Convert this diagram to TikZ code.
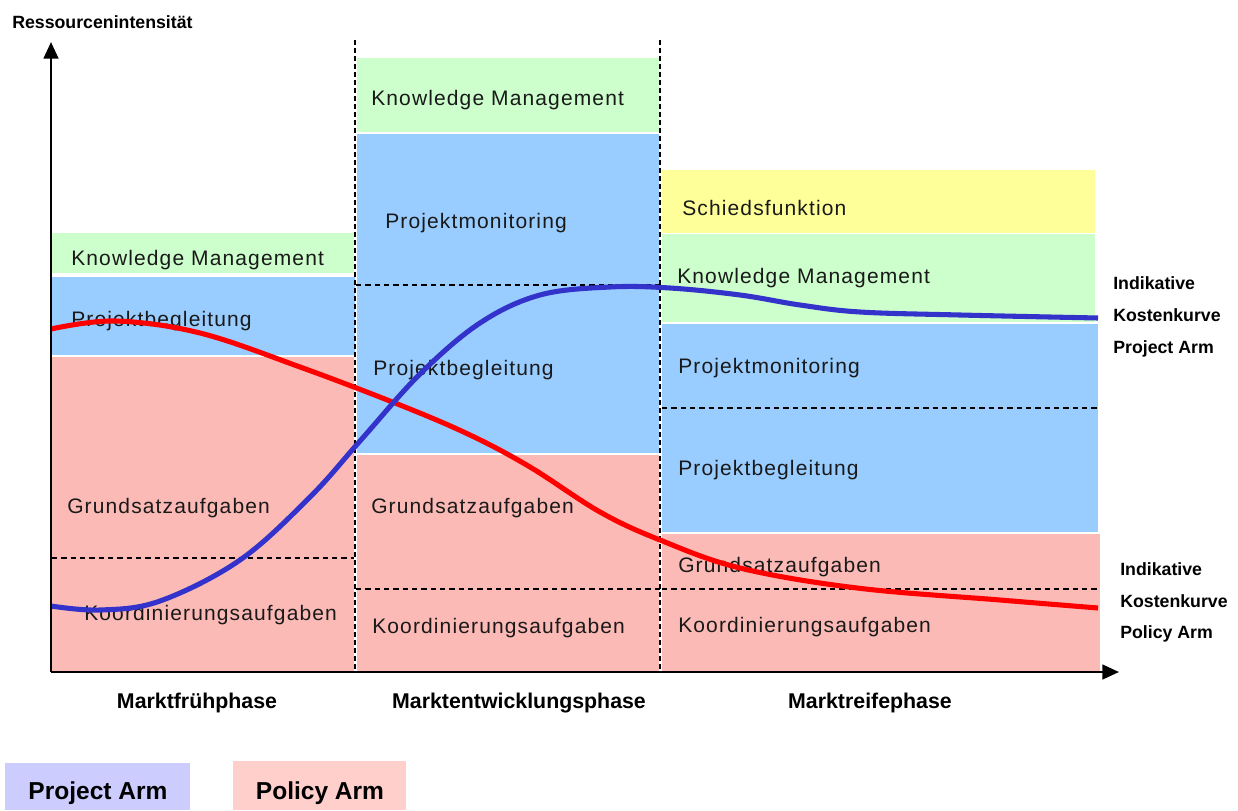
\documentclass[tikz,border=0pt]{standalone}
\usepackage{fontspec}
\setmainfont{Liberation Sans}
\newfontfamily\regfont[LetterSpace=5.4]{Liberation Sans}
\usetikzlibrary{arrows.meta}
\definecolor{kmgreen}{HTML}{CCFFCC}
\definecolor{projblue}{HTML}{99CCFF}
\definecolor{polpink}{HTML}{FBBAB6}
\definecolor{schyellow}{HTML}{FFFF99}
\definecolor{curveblue}{HTML}{3333CC}
\definecolor{curvered}{HTML}{FF0000}
\definecolor{legblue}{HTML}{CCCCFF}
\definecolor{legpink}{HTML}{FFCFCC}
\begin{document}
\begin{tikzpicture}[x=0.75pt,y=-0.75pt,
  lbl/.style={anchor=base west, inner sep=0pt, font=\regfont\fontsize{15.75}{18}\selectfont, text=black!90},
  phase/.style={anchor=base, inner sep=0pt, font=\bfseries\fontsize{16}{19}\selectfont},
  curvelbl/.style={anchor=base west, inner sep=0pt, font=\bfseries\fontsize{13.3}{16}\selectfont},
  legtext/.style={anchor=base, inner sep=0pt, font=\bfseries\fontsize{18.4}{22}\selectfont},
  coldash/.style={line width=0.9pt, dash pattern=on 4pt off 2pt},
  rowdash/.style={line width=0.8pt, dash pattern=on 4pt off 3pt},
  axisline/.style={line width=1.9pt, -{Triangle[length=12.5pt,width=11pt]}},
  costcurve/.style={line width=3.8pt, line join=round}
]
\useasboundingbox (0,0) rectangle (1238,810);

% column 1
\fill[kmgreen] (52,233) rectangle (354,273);
\fill[projblue] (52,277) rectangle (355,355);
\fill[polpink] (52,357) rectangle (354,671);
% column 2
\fill[kmgreen] (357,58) rectangle (659,132);
\fill[projblue] (357,134) rectangle (659,453);
\fill[polpink] (357,455) rectangle (659,671);
% column 3
\fill[schyellow] (662,170) rectangle (1095,233);
\fill[kmgreen] (662,234) rectangle (1095,322);
\fill[projblue] (662,323.5) rectangle (1097.5,531.5);
\fill[polpink] (662,534) rectangle (1100,671);

% dashed separators
\coordinate (c1top) at (355,40);
\coordinate (c1bot) at (355,672);
\coordinate (c2top) at (660,40);
\coordinate (c2bot) at (660,672);
\draw[coldash] (c1top) -- (c1bot);
\draw[coldash] (c2top) -- (c2bot);
\coordinate (d1a) at (52,558);   \coordinate (d1b) at (354,558);
\coordinate (d2a) at (356,285);  \coordinate (d2b) at (660,285);
\coordinate (d3a) at (356,589);  \coordinate (d3b) at (660,589);
\coordinate (d4a) at (662,408);  \coordinate (d4b) at (1097,408);
\coordinate (d5a) at (662,589);  \coordinate (d5b) at (1100,589);
\draw[rowdash] (d1a) -- (d1b);
\draw[rowdash] (d2a) -- (d2b);
\draw[rowdash] (d3a) -- (d3b);
\draw[rowdash] (d4a) -- (d4b);
\draw[rowdash] (d5a) -- (d5b);

% labels column 1
\node[lbl] (km1) at (71,265) {Knowledge Management};
\node[lbl] (pb1) at (71,326) {Projektbegleitung};
\node[lbl] (gs1) at (67,513) {Grundsatzaufgaben};
\node[lbl] (ko1) at (84,620) {Koordinierungsaufgaben};
% labels column 2
\node[lbl] (km2) at (371,105) {Knowledge Management};
\node[lbl] (pm2) at (385,228) {Projektmonitoring};
\node[lbl] (pb2) at (373,375) {Projektbegleitung};
\node[lbl] (gs2) at (371,513) {Grundsatzaufgaben};
\node[lbl] (ko2) at (372,633) {Koordinierungsaufgaben};
% labels column 3
\node[lbl] (sf3) at (682,215) {Schiedsfunktion};
\node[lbl] (km3) at (677,283) {Knowledge Management};
\node[lbl] (pm3) at (678,373) {Projektmonitoring};
\node[lbl] (pb3) at (678,475) {Projektbegleitung};
\node[lbl] (gs3) at (678,572) {Grundsatzaufgaben};
\node[lbl] (ko3) at (678,632) {Koordinierungsaufgaben};

% curves
\draw[costcurve, curvered] plot[smooth, tension=0.6] coordinates {
  (51,329) (115,321) (200,333) (300,367) (400,405) (470,435) (530,467)
  (600,512) (660,540) (740,568) (857,588) (1000,600) (1098,608)};
\draw[costcurve, curveblue] plot[smooth, tension=0.6] coordinates {
  (51,606) (100,610) (160,601) (240,560) (310,497) (360,441) (420,374)
  (480,323) (540,295) (610,287) (670,288) (740,295) (800,305) (860,312)
  (960,315) (1098,318)};

% axes
\coordinate (origin) at (51,672);
\coordinate (ytip) at (51,42);
\coordinate (xtip) at (1119,672);
\draw[axisline] (origin) -- (ytip);
\draw[axisline] (origin) -- (xtip);

\node[anchor=base west, inner sep=0pt, font=\bfseries\fontsize{13.3}{16}\selectfont] (ytitle) at (12,28) {Ressourcenintensität};

% phases
\node[phase] (ph1) at (197,708) {Marktfrühphase};
\node[phase] (ph2) at (519,708) {Marktentwicklungsphase};
\node[phase] (ph3) at (870,708) {Marktreifephase};

% curve labels
\node[curvelbl] (pa1) at (1113,289) {Indikative};
\node[curvelbl] (pa2) at (1113,321) {Kostenkurve};
\node[curvelbl] (pa3) at (1113,353) {Project Arm};
\node[curvelbl] (po1) at (1120,575) {Indikative};
\node[curvelbl] (po2) at (1120,607) {Kostenkurve};
\node[curvelbl] (po3) at (1120,638) {Policy Arm};

% legend
\fill[legblue] (5,763) rectangle (190,810);
\fill[legpink] (233,761) rectangle (406,810);
\node[legtext] (legproj) at (98,799) {Project Arm};
\node[legtext] (legpol) at (320,799) {Policy Arm};
\end{tikzpicture}
\end{document}
